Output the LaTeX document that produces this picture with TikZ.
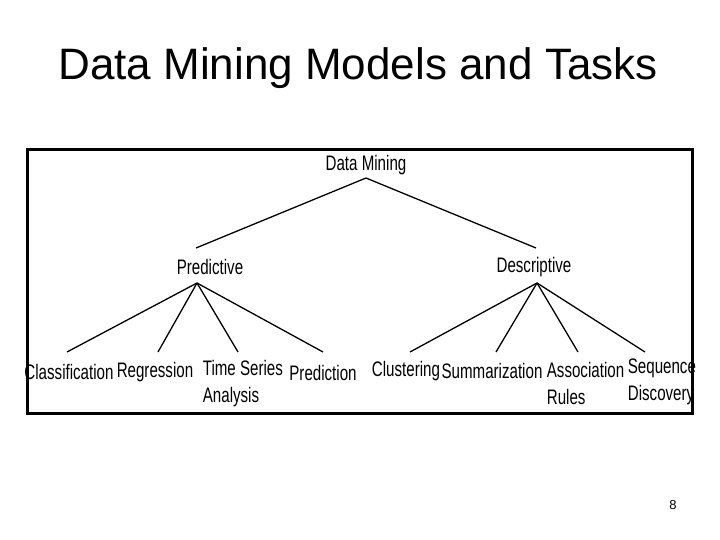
\documentclass[tikz,border=0pt]{standalone}
\usepackage{fontspec}
\setmainfont{Liberation Sans}
\begin{document}
\begin{tikzpicture}[x=1pt,y=-1pt,
  lbl/.style={font=\fontsize{21}{27}\selectfont, xscale=0.72, inner sep=1pt, align=left},
  edge/.style={line width=1.3pt}]
\useasboundingbox (0,0) rectangle (720,540);
\node[font=\fontsize{44}{48}\selectfont] (title) at (358,68) {Data Mining Models and Tasks};
\draw[line width=3pt] (27,150) rectangle (692,413);
\node[lbl] (dm) at (366,165) {Data Mining};
\node[lbl] (pred) at (210,267) {Predictive};
\node[lbl] (desc) at (534,267) {Descriptive};
\coordinate (dmb) at (366,178);
\coordinate (pt) at (196,248);
\coordinate (dt) at (536,248);
\coordinate (pb) at (197,283);
\coordinate (db) at (537,283);
\node[lbl] (cls) at (69,372) {Classification};
\node[lbl] (reg) at (155,372) {Regression};
\node[lbl,anchor=north west] (ts) at (202,359) {Time Series\\Analysis};
\node[lbl] (prd) at (323,373) {Prediction};
\node[lbl] (clu) at (406,371) {Clustering};
\node[lbl] (sum) at (492,371) {Summarization};
\node[lbl,anchor=north west] (ass) at (546,361) {Association\\Rules};
\node[lbl,anchor=north west] (seq) at (627,358) {Sequence\\Discovery};
\coordinate (c1) at (67,352); \coordinate (c2) at (158,352);
\coordinate (c3) at (238,352); \coordinate (c4) at (323,352);
\coordinate (c5) at (410,352); \coordinate (c6) at (496,352);
\coordinate (c7) at (578,352); \coordinate (c8) at (645,352);
\draw[edge] (pt) -- (dmb) -- (dt);
\foreach \c in {c1,c2,c3,c4} \draw[edge] (pb) -- (\c);
\foreach \c in {c5,c6,c7,c8} \draw[edge] (db) -- (\c);
\node[font=\fontsize{13}{14}\selectfont] (pg) at (673,505) {8};
\end{tikzpicture}
\end{document}
